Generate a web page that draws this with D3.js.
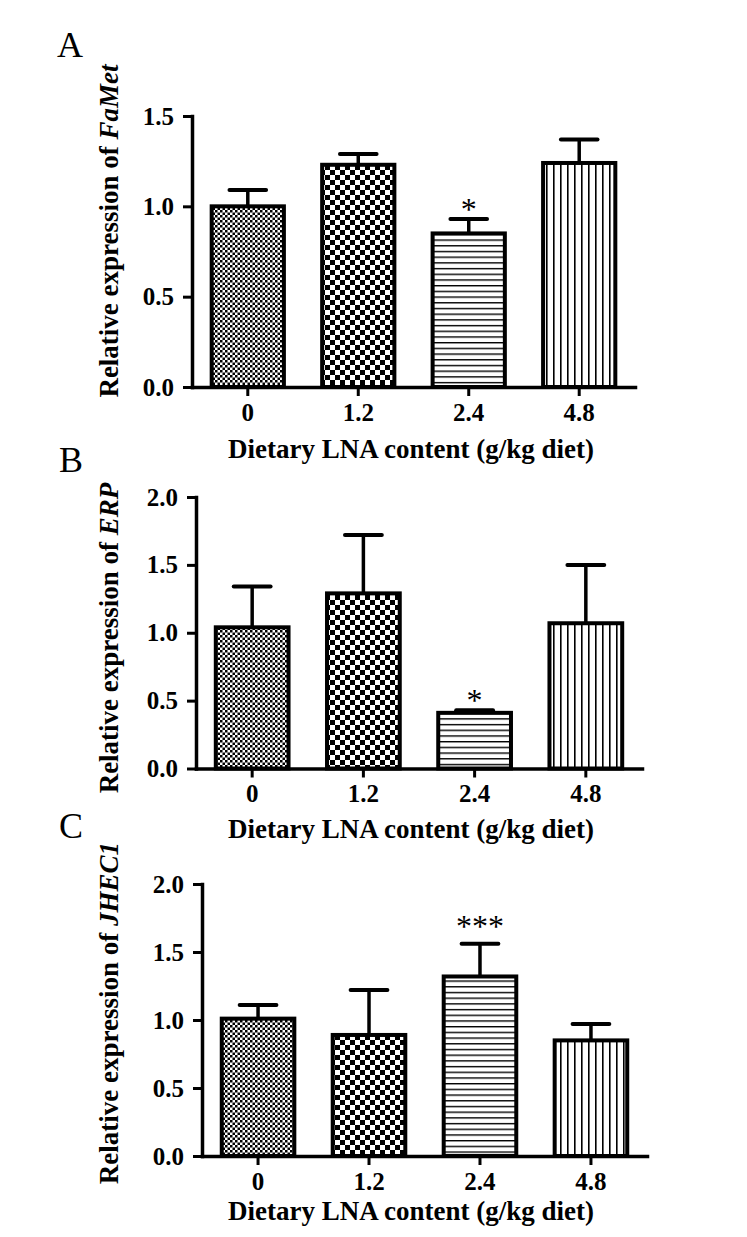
<!DOCTYPE html>
<html>
<head>
<meta charset="utf-8">
<script src="https://cdn.jsdelivr.net/npm/d3@7"></script>
<style>
  body { margin: 0; background: #fff; }
  svg { display: block; }
  text { font-family: "Liberation Serif", "Times New Roman", serif; fill: #000; }
</style>
</head>
<body>
<svg id="chart" width="747" height="1237"></svg>
<script>
(function(){

'use strict';

// dose groups on the x axis
var doses = ['0', '1.2', '2.4', '4.8'];

// A: FaMet
var fametMean = [1.00, 1.23, 0.85, 1.24];
var fametSem  = [0.09, 0.06, 0.08, 0.13];
var fametSig  = ['', '', '*', ''];

// B: ERP
var erpMean = [1.04, 1.29, 0.41, 1.07];
var erpSem  = [0.30, 0.43, 0.02, 0.43];
var erpSig  = ['', '', '*', ''];

// C: JHEC1
var jhecMean = [1.01, 0.89, 1.32, 0.85];
var jhecSem  = [0.10, 0.33, 0.24, 0.12];
var jhecSig  = ['', '', '***', ''];

var yTicksA = [0, 0.5, 1.0, 1.5];
var yTicksBC = [0, 0.5, 1.0, 1.5, 2.0];

var xTitle = 'Dietary LNA content (g/kg diet)';

var panels = [
  { letter: 'A', gene: 'FaMet', mean: fametMean, sem: fametSem, sig: fametSig, ticks: yTicksA },
  { letter: 'B', gene: 'ERP',   mean: erpMean,   sem: erpSem,   sig: erpSig,   ticks: yTicksBC },
  { letter: 'C', gene: 'JHEC1', mean: jhecMean,  sem: jhecSem,  sig: jhecSig,  ticks: yTicksBC }
];

// where each panel sits on the page (the three were pasted slightly offset)
var layout = [
  { left: 192, right: 635, top: 116, bottom: 387,   letterX: 57, letterY: 57,  labelY: 231, titleY: 458,  sigDy: 1 },
  { left: 196, right: 642, top: 497, bottom: 768.5, letterX: 59, letterY: 472, labelY: 638, titleY: 838,  sigDy: 1 },
  { left: 202, right: 647, top: 884, bottom: 1156,  letterX: 59, letterY: 838, labelY: 1013, titleY: 1220, sigDy: -7 }
];

var fills = ['url(#fine-check)', 'url(#coarse-check)', 'url(#hlines)', 'url(#vlines)'];

var svg = d3.select('#chart');
var defs = svg.append('defs');

function checker(id, cell) {
  var p = defs.append('pattern')
    .attr('id', id)
    .attr('patternUnits', 'userSpaceOnUse')
    .attr('width', cell * 2)
    .attr('height', cell * 2);
  p.append('rect').attr('width', cell * 2).attr('height', cell * 2).attr('fill', '#fff');
  p.append('rect').attr('width', cell).attr('height', cell).attr('fill', '#000');
  p.append('rect').attr('x', cell).attr('y', cell).attr('width', cell).attr('height', cell).attr('fill', '#000');
}

function stripes(id, gap, lw, vertical) {
  var p = defs.append('pattern')
    .attr('id', id)
    .attr('patternUnits', 'userSpaceOnUse')
    .attr('width', vertical ? gap : 10)
    .attr('height', vertical ? 10 : gap);
  p.append('rect').attr('width', vertical ? gap : 10).attr('height', vertical ? 10 : gap).attr('fill', '#fff');
  p.append('rect')
    .attr('width', vertical ? lw : 10)
    .attr('height', vertical ? 10 : lw)
    .attr('fill', '#000');
}

checker('fine-check', 2.5);
checker('coarse-check', 5);
stripes('hlines', 5.7, 1.4, false);
stripes('vlines', 7, 1.6, true);

panels.forEach(function(panel, i) {
  var L = layout[i];
  var g = svg.append('g');

  var x = d3.scaleBand()
    .domain(doses)
    .range([L.left, L.right])
    .paddingInner(0.31)
    .paddingOuter(0.16);

  var y = d3.scaleLinear()
    .domain([0, d3.max(panel.ticks)])
    .range([L.bottom, L.top]);

  var rows = doses.map(function(d, j) {
    return { dose: d, mean: panel.mean[j], sem: panel.sem[j], sig: panel.sig[j], fill: fills[j] };
  });

  var bw = x.bandwidth();
  var capW = bw * 0.48;

  // error bars (upper only)
  g.selectAll('line.stem').data(rows).enter().append('line')
    .attr('class', 'stem')
    .attr('x1', function(d) { return x(d.dose) + bw / 2; })
    .attr('x2', function(d) { return x(d.dose) + bw / 2; })
    .attr('y1', function(d) { return y(d.mean); })
    .attr('y2', function(d) { return y(d.mean + d.sem); })
    .attr('stroke', '#000')
    .attr('stroke-width', 3.5);

  g.selectAll('line.cap').data(rows).enter().append('line')
    .attr('class', 'cap')
    .attr('x1', function(d) { return x(d.dose) + bw / 2 - capW / 2; })
    .attr('x2', function(d) { return x(d.dose) + bw / 2 + capW / 2; })
    .attr('y1', function(d) { return y(d.mean + d.sem); })
    .attr('y2', function(d) { return y(d.mean + d.sem); })
    .attr('stroke', '#000')
    .attr('stroke-width', 4)
    .attr('stroke-linecap', 'round');

  // bars
  g.selectAll('rect.bar').data(rows).enter().append('rect')
    .attr('class', 'bar')
    .attr('x', function(d) { return x(d.dose) + 2; })
    .attr('width', bw - 4)
    .attr('y', function(d) { return y(d.mean); })
    .attr('height', function(d) { return y(0) - y(d.mean); })
    .attr('fill', function(d) { return d.fill; })
    .attr('stroke', '#000')
    .attr('stroke-width', 4);

  // significance marks
  g.selectAll('text.sig').data(rows.filter(function(d) { return d.sig; })).enter().append('text')
    .attr('class', 'sig')
    .attr('x', function(d) { return x(d.dose) + bw / 2; })
    .attr('y', function(d) { return y(d.mean + d.sem) + L.sigDy; })
    .attr('text-anchor', 'middle')
    .attr('font-size', 32)
    .text(function(d) { return d.sig; });

  // axes
  var yAxis = g.append('g')
    .attr('transform', 'translate(' + L.left + ',0)')
    .call(d3.axisLeft(y).tickValues(panel.ticks).tickFormat(d3.format('.1f'))
      .tickSize(9).tickSizeOuter(0).tickPadding(9));

  var xAxis = g.append('g')
    .attr('transform', 'translate(0,' + L.bottom + ')')
    .call(d3.axisBottom(x).tickSize(9).tickSizeOuter(0).tickPadding(7));

  [yAxis, xAxis].forEach(function(ax) {
    ax.select('.domain').attr('stroke-width', 3.5).attr('stroke-linecap', 'square');
    ax.selectAll('.tick line').attr('stroke-width', 3);
    ax.selectAll('.tick text')
      .attr('font-family', '"Liberation Serif", "Times New Roman", serif')
      .attr('font-weight', 'bold')
      .attr('font-size', 25)
      .attr('fill', '#000');
  });

  // axis titles
  var ylab = g.append('text')
    .attr('transform', 'translate(118,' + L.labelY + ') rotate(-90)')
    .attr('text-anchor', 'middle')
    .attr('font-weight', 'bold')
    .attr('font-size', 27);
  ylab.append('tspan').text('Relative expression of ');
  ylab.append('tspan').attr('font-style', 'italic').text(panel.gene);

  g.append('text')
    .attr('x', 411)
    .attr('y', L.titleY)
    .attr('text-anchor', 'middle')
    .attr('font-weight', 'bold')
    .attr('font-size', 27)
    .text(xTitle);

  g.append('text')
    .attr('x', L.letterX)
    .attr('y', L.letterY)
    .attr('font-size', 36)
    .text(panel.letter);
});

}());
</script>
</body>
</html>
